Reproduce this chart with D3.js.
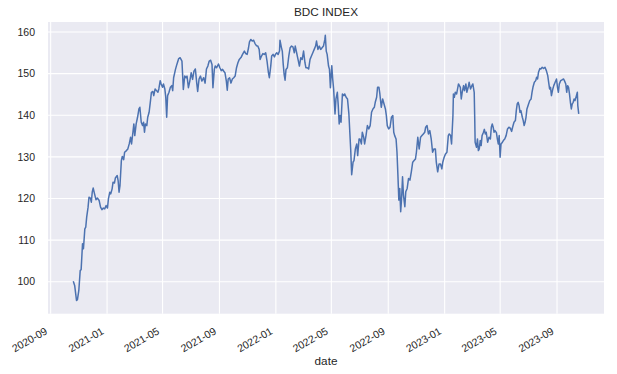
<!DOCTYPE html>
<html>
<head>
<meta charset="utf-8">
<script src="https://cdn.jsdelivr.net/npm/d3@7"></script>
<style>
  body { margin: 0; background: #fff; }
  text { font-family: "Liberation Sans", Arial, sans-serif; fill: #262626; }
</style>
</head>
<body>
<div id="chart"></div>
<script>
// BDC index, values
const dates = [
  "2020-10-21","2020-10-24","2020-10-28","2020-10-30","2020-11-02","2020-11-05","2020-11-07","2020-11-10","2020-11-12","2020-11-15",
  "2020-11-17","2020-11-19","2020-11-22","2020-11-24","2020-11-27","2020-11-29","2020-12-01","2020-12-03","2020-12-06","2020-12-09",
  "2020-12-12","2020-12-16","2020-12-19","2020-12-22","2020-12-25","2020-12-28","2020-12-31","2021-01-03","2021-01-05","2021-01-08",
  "2021-01-10","2021-01-13","2021-01-15","2021-01-18","2021-01-20","2021-01-24","2021-01-26","2021-01-28","2021-01-30","2021-02-02",
  "2021-02-04","2021-02-07","2021-02-09","2021-02-13","2021-02-16","2021-02-19","2021-02-22","2021-02-24","2021-02-27","2021-03-01",
  "2021-03-03","2021-03-06","2021-03-09","2021-03-12","2021-03-14","2021-03-17","2021-03-20","2021-03-22","2021-03-24","2021-03-26",
  "2021-03-29","2021-03-31","2021-04-03","2021-04-06","2021-04-08","2021-04-11","2021-04-13","2021-04-16","2021-04-19","2021-04-22",
  "2021-04-24","2021-04-27","2021-04-29","2021-05-02","2021-05-04","2021-05-07","2021-05-09","2021-05-11","2021-05-13","2021-05-16",
  "2021-05-19","2021-05-22","2021-05-24","2021-05-26","2021-05-30","2021-06-02","2021-06-06","2021-06-09","2021-06-13","2021-06-16",
  "2021-06-19","2021-06-22","2021-06-24","2021-06-27","2021-06-30","2021-07-03","2021-07-06","2021-07-09","2021-07-12","2021-07-15",
  "2021-07-17","2021-07-20","2021-07-23","2021-07-26","2021-07-30","2021-08-02","2021-08-05","2021-08-08","2021-08-11","2021-08-14",
  "2021-08-17","2021-08-19","2021-08-22","2021-08-24","2021-08-27","2021-08-31","2021-09-03","2021-09-06","2021-09-09","2021-09-11",
  "2021-09-14","2021-09-17","2021-09-19","2021-09-21","2021-09-24","2021-09-27","2021-09-30","2021-10-03","2021-10-06","2021-10-09",
  "2021-10-12","2021-10-15","2021-10-19","2021-10-22","2021-10-26","2021-10-29","2021-11-01","2021-11-04","2021-11-06","2021-11-09",
  "2021-11-12","2021-11-15","2021-11-18","2021-11-21","2021-11-24","2021-11-27","2021-11-29","2021-12-02","2021-12-05","2021-12-08",
  "2021-12-11","2021-12-14","2021-12-17","2021-12-19","2021-12-22","2021-12-24","2021-12-27","2021-12-30","2022-01-01","2022-01-04",
  "2022-01-07","2022-01-10","2022-01-11","2022-01-14","2022-01-16","2022-01-18","2022-01-20","2022-01-22","2022-01-24","2022-01-27",
  "2022-01-30","2022-02-02","2022-02-05","2022-02-08","2022-02-11","2022-02-13","2022-02-16","2022-02-19","2022-02-22","2022-02-25",
  "2022-02-28","2022-03-03","2022-03-06","2022-03-08","2022-03-11","2022-03-14","2022-03-17","2022-03-20","2022-03-23","2022-03-26",
  "2022-03-29","2022-03-31","2022-04-03","2022-04-06","2022-04-09","2022-04-12","2022-04-15","2022-04-18","2022-04-19","2022-04-21",
  "2022-04-23","2022-04-26","2022-04-28","2022-04-30","2022-05-03","2022-05-05","2022-05-07","2022-05-10","2022-05-12","2022-05-15",
  "2022-05-17","2022-05-19","2022-05-21","2022-05-23","2022-05-26","2022-05-29","2022-05-31","2022-06-03","2022-06-06","2022-06-09",
  "2022-06-11","2022-06-13","2022-06-15","2022-06-18","2022-06-20","2022-06-23","2022-06-26","2022-06-28","2022-07-01","2022-07-03",
  "2022-07-06","2022-07-08","2022-07-11","2022-07-13","2022-07-16","2022-07-19","2022-07-22","2022-07-25","2022-07-28","2022-07-31",
  "2022-08-03","2022-08-05","2022-08-08","2022-08-10","2022-08-13","2022-08-15","2022-08-18","2022-08-21","2022-08-24","2022-08-27",
  "2022-08-29","2022-08-31","2022-09-03","2022-09-06","2022-09-09","2022-09-12","2022-09-14","2022-09-16","2022-09-19","2022-09-21",
  "2022-09-23","2022-09-25","2022-09-27","2022-09-29","2022-10-01","2022-10-03","2022-10-05","2022-10-08","2022-10-10","2022-10-13",
  "2022-10-16","2022-10-19","2022-10-22","2022-10-25","2022-10-28","2022-10-31","2022-11-02","2022-11-05","2022-11-08","2022-11-11",
  "2022-11-14","2022-11-17","2022-11-20","2022-11-22","2022-11-25","2022-11-28","2022-12-01","2022-12-04","2022-12-07","2022-12-10",
  "2022-12-13","2022-12-15","2022-12-18","2022-12-21","2022-12-24","2022-12-27","2022-12-29","2023-01-01","2023-01-04","2023-01-07",
  "2023-01-10","2023-01-12","2023-01-15","2023-01-17","2023-01-20","2023-01-21","2023-01-23","2023-01-25","2023-01-28","2023-01-30",
  "2023-02-01","2023-02-03","2023-02-05","2023-02-07","2023-02-09","2023-02-12","2023-02-14","2023-02-17","2023-02-19","2023-02-22",
  "2023-02-24","2023-02-27","2023-03-02","2023-03-04","2023-03-07","2023-03-08","2023-03-09","2023-03-12","2023-03-14","2023-03-16",
  "2023-03-18","2023-03-20","2023-03-22","2023-03-24","2023-03-27","2023-03-29","2023-03-31","2023-04-02","2023-04-05","2023-04-08",
  "2023-04-11","2023-04-13","2023-04-15","2023-04-17","2023-04-19","2023-04-21","2023-04-24","2023-04-26","2023-04-28","2023-04-30",
  "2023-05-02","2023-05-04","2023-05-07","2023-05-09","2023-05-12","2023-05-15","2023-05-18","2023-05-21","2023-05-24","2023-05-27",
  "2023-05-29","2023-06-01","2023-06-04","2023-06-06","2023-06-08","2023-06-10","2023-06-12","2023-06-14","2023-06-16","2023-06-19",
  "2023-06-21","2023-06-23","2023-06-25","2023-06-27","2023-06-29","2023-07-02","2023-07-05","2023-07-08","2023-07-10","2023-07-12",
  "2023-07-15","2023-07-18","2023-07-20","2023-07-22","2023-07-24","2023-07-27","2023-07-29","2023-08-01","2023-08-04","2023-08-07",
  "2023-08-10","2023-08-13","2023-08-15","2023-08-17","2023-08-19","2023-08-21","2023-08-24","2023-08-26","2023-08-29","2023-09-01",
  "2023-09-03","2023-09-05","2023-09-07","2023-09-10","2023-09-13","2023-09-16","2023-09-18","2023-09-21","2023-09-23","2023-09-25",
  "2023-09-27","2023-09-29","2023-10-01","2023-10-03","2023-10-05","2023-10-07","2023-10-09","2023-10-11","2023-10-14","2023-10-16",
  "2023-10-17","2023-10-19"
];

const values = [
  100.0, 99.0, 95.4, 95.6, 97.8, 102.6, 102.8, 109.0, 107.8, 112.6,
  113.0, 115.4, 117.8, 120.2, 120.0, 119.0, 121.4, 122.4, 121.0, 119.6,
  120.0, 119.4, 117.8, 117.2, 117.6, 117.4, 118.2, 117.6, 119.8, 121.4,
  121.0, 122.2, 123.8, 123.6, 124.8, 125.4, 124.2, 121.4, 123.0, 129.0,
  130.0, 129.2, 131.0, 131.4, 131.8, 133.0, 134.6, 133.0, 135.8, 137.8,
  135.0, 137.8, 139.4, 141.4, 141.8, 138.2, 137.4, 138.2, 135.8, 137.8,
  137.4, 139.4, 140.6, 143.4, 145.4, 145.6, 144.6, 146.2, 145.8, 145.4,
  146.2, 148.2, 147.4, 146.6, 147.4, 146.2, 144.2, 139.4, 144.6, 145.4,
  146.6, 147.0, 145.8, 148.9, 150.9, 152.1, 153.5, 153.7, 152.9, 146.1,
  149.3, 148.9, 149.3, 146.5, 148.1, 150.1, 148.5, 150.5, 151.0, 147.6,
  145.6, 148.6, 149.3, 148.1, 148.9, 147.6, 151.0, 151.7, 152.9, 153.1,
  152.1, 146.5, 150.9, 151.7, 151.3, 152.2, 151.3, 150.6, 150.9, 150.5,
  150.1, 148.1, 145.9, 148.6, 148.9, 147.6, 148.6, 148.9, 149.3, 151.3,
  152.5, 153.3, 153.8, 154.5, 155.3, 154.7, 154.5, 156.1, 157.5, 158.1,
  157.7, 157.9, 157.1, 156.6, 156.5, 155.7, 153.3, 154.1, 154.7, 154.5,
  154.9, 152.9, 150.1, 148.9, 151.7, 154.1, 154.5, 153.9, 154.5, 154.9,
  154.5, 155.3, 157.9, 156.2, 155.3, 152.1, 149.7, 148.3, 150.9, 151.3,
  154.1, 156.1, 156.5, 156.3, 154.9, 156.5, 154.9, 153.3, 151.7, 153.7,
  153.3, 155.3, 152.5, 151.3, 151.3, 151.0, 153.3, 154.1, 154.9, 155.7,
  156.5, 157.7, 155.7, 156.5, 155.7, 156.1, 156.5, 158.1, 159.1, 155.3,
  154.5, 151.7, 150.9, 146.5, 151.8, 148.6, 146.2, 140.2, 143.8, 145.4,
  142.2, 137.8, 139.8, 138.2, 145.0, 144.6, 145.0, 144.2, 143.8, 140.2,
  135.8, 131.4, 125.6, 128.6, 129.0, 131.8, 133.0, 130.2, 134.2, 134.2,
  133.0, 135.8, 134.6, 133.0, 135.0, 137.4, 136.6, 137.4, 140.6, 141.4,
  141.8, 143.0, 144.2, 146.6, 146.6, 145.0, 141.8, 143.8, 142.6, 141.4,
  139.8, 137.4, 136.6, 137.0, 139.4, 139.8, 135.8, 135.0, 134.2, 131.0,
  125.5, 119.5, 122.3, 116.7, 119.9, 125.1, 120.7, 117.9, 121.5, 122.3,
  124.7, 124.3, 126.3, 128.6, 129.0, 129.4, 131.0, 134.6, 131.8, 134.6,
  135.0, 135.4, 135.8, 137.0, 137.4, 135.4, 136.2, 134.2, 131.0, 131.8,
  131.8, 128.6, 126.3, 128.2, 128.2, 127.0, 128.6, 129.8, 130.6, 131.0,
  135.0, 135.4, 135.0, 133.0, 139.8, 145.0, 144.2, 145.4, 145.0, 146.2,
  147.4, 147.0, 146.6, 143.8, 145.4, 147.0, 145.8, 147.4, 145.4, 146.6,
  147.8, 146.2, 147.0, 147.4, 145.4, 139.8, 133.4, 132.2, 134.2, 131.4,
  131.8, 133.8, 132.6, 135.0, 135.8, 136.5, 135.4, 135.8, 133.4, 134.6,
  134.2, 137.0, 137.8, 137.0, 135.8, 136.2, 135.7, 134.2, 133.0, 135.0,
  129.8, 133.0, 133.4, 133.8, 134.2, 135.0, 136.6, 137.0, 136.8, 136.0,
  137.0, 138.2, 138.6, 141.0, 142.6, 143.0, 142.2, 140.6, 141.0, 139.4,
  138.6, 137.4, 138.2, 139.4, 141.4, 142.4, 143.4, 143.8, 145.4, 146.6,
  147.8, 148.2, 149.0, 148.6, 150.2, 151.1, 151.0, 151.4, 151.1, 151.4,
  150.6, 149.4, 147.8, 146.2, 146.6, 144.6, 146.2, 147.0, 147.8, 148.6,
  146.6, 145.4, 147.4, 148.2, 148.4, 148.6, 148.2, 147.4, 145.4, 147.0,
  146.6, 145.0, 143.0, 141.4, 142.6, 143.0, 143.8, 143.4, 144.6, 145.4,
  142.2, 140.2
];

const yTicks = [100, 110, 120, 130, 140, 150, 160];
const xTickLabels = ["2020-09", "2021-01", "2021-05", "2021-09", "2022-01",
                     "2022-05", "2022-09", "2023-01", "2023-05", "2023-09"];

const TITLE = "BDC INDEX";
const X_LABEL = "date";

// Set dimensions
const width = 617;
const height = 374;
const margin = { top: 22, right: 13, bottom: 60.3, left: 48 };
const plotW = width - margin.left - margin.right;
const plotH = height - margin.top - margin.bottom;

const BG_COLOR = "#eaeaf2";
const GRID_COLOR = "#ffffff";
const LINE_COLOR = "#4c72b0";
const TICK_FONT = "10.5px";

const parseDate = d3.timeParse("%Y-%m-%d");
const parseMonth = d3.timeParse("%Y-%m");
const series = dates.map((d, i) => ({ date: parseDate(d), value: values[i] }));

// matplotlib style 5% margins around the data
const xExt = d3.extent(series, (d) => d.date);
const xPad = (xExt[1] - xExt[0]) * 0.05;
const yExt = d3.extent(series, (d) => d.value);
const yPad = (yExt[1] - yExt[0]) * 0.05;

const xScale = d3
  .scaleTime()
  .domain([new Date(+xExt[0] - xPad), new Date(+xExt[1] + xPad)])
  .range([0, plotW]);

const yScale = d3
  .scaleLinear()
  .domain([yExt[0] - yPad, yExt[1] + yPad])
  .range([plotH, 0]);

const svg = d3
  .select("#chart")
  .append("svg")
  .attr("width", width)
  .attr("height", height);

const g = svg.append("g").attr("transform", `translate(${margin.left},${margin.top})`);

g.append("rect")
  .attr("width", plotW)
  .attr("height", plotH)
  .attr("fill", BG_COLOR);

// grid + tick labels via axes
const xTicks = xTickLabels.map(parseMonth);

const xAxis = g
  .append("g")
  .attr("transform", `translate(0,${plotH})`)
  .call(
    d3.axisBottom(xScale)
      .tickValues(xTicks)
      .tickSize(plotH)
      .tickSizeOuter(0)
      .tickFormat(d3.timeFormat("%Y-%m"))
  );
xAxis.select(".domain").remove();
xAxis.selectAll(".tick line")
  .attr("y2", -plotH)
  .attr("stroke", GRID_COLOR)
  .attr("stroke-width", 1.1);
xAxis.selectAll(".tick text")
  .attr("y", 0)
  .attr("dy", 0)
  .attr("text-anchor", "end")
  .attr("transform", "translate(-2.5,19.5) rotate(-30)")
  .style("font-size", TICK_FONT)
  .style("fill", "#262626");

const yAxis = g
  .append("g")
  .call(d3.axisLeft(yScale).tickValues(yTicks).tickSize(-plotW).tickSizeOuter(0));
yAxis.select(".domain").remove();
yAxis.selectAll(".tick line")
  .attr("stroke", GRID_COLOR)
  .attr("stroke-width", 1.1);
yAxis.selectAll(".tick text")
  .attr("x", -13)
  .attr("dy", "0.35em")
  .style("font-size", TICK_FONT)
  .style("fill", "#262626");

// the series
const line = d3
  .line()
  .x((d) => xScale(d.date))
  .y((d) => yScale(d.value));

g.append("path")
  .datum(series)
  .attr("d", line)
  .attr("fill", "none")
  .attr("stroke", LINE_COLOR)
  .attr("stroke-width", 1.5)
  .attr("stroke-linejoin", "round");

// title and axis label
svg.append("text")
  .attr("x", margin.left + plotW / 2)
  .attr("y", 16)
  .attr("text-anchor", "middle")
  .style("font-size", "11.75px")
  .text(TITLE);

svg.append("text")
  .attr("x", margin.left + plotW / 2)
  .attr("y", 365)
  .attr("text-anchor", "middle")
  .style("font-size", "11.75px")
  .text(X_LABEL);
</script>
</body>
</html>
